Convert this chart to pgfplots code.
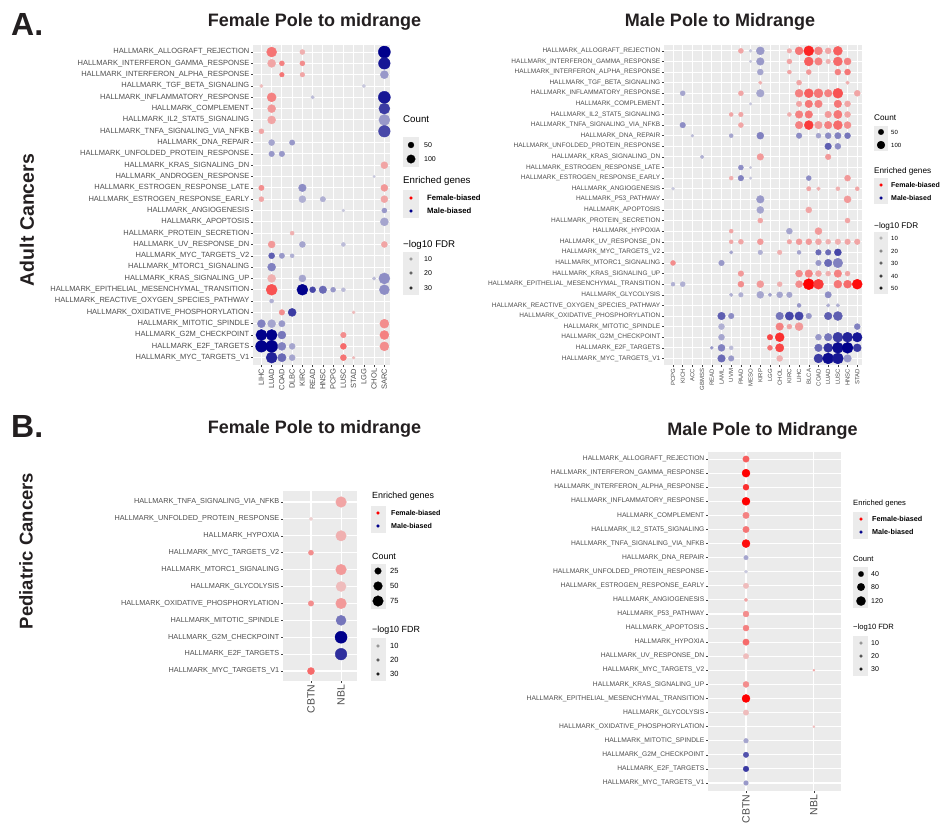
\documentclass[border=0pt]{standalone}
\usepackage{fontspec}
\setmainfont{Liberation Sans}
\usepackage{pgfplots}
\usepackage{pgfplotstable}
\pgfplotsset{compat=1.18}
\definecolor{ggbg}{HTML}{EBEBEB}
\definecolor{fem}{HTML}{FF0000}
\definecolor{mal}{HTML}{00008B}
\definecolor{tickc}{HTML}{4D4D4D}
\definecolor{ttl}{HTML}{231F20}
\newcommand\fs[1]{\fontsize{#1}{#1}\selectfont}

% ---------- A: Female pole (adult) ----------
\pgfplotstableread{
x y c f
2 1 135 16.9
5 1 34 6.3
2 2 87 8.4
3 2 34 14.8
5 2 34 12.7
3 3 29 16.9
5 3 29 8.4
1 4 16 4.2
2 5 110 14.8
2 6 87 10.6
2 7 87 8.4
1 8 34 8.4
13 11 66 8.4
1 13 39 12.7
13 13 66 10.6
1 14 34 8.4
13 14 66 8.4
4 17 22 6.3
2 18 66 10.6
13 18 49 8.4
2 21 87 6.3
2 22 164 23.2
3 24 42 12.7
10 24 12 4.2
13 25 110 12.7
9 26 42 12.7
13 26 110 14.8
9 27 49 19
13 27 110 12.7
9 28 49 16.9
10 28 12 4.2
}\ALf
\pgfplotstableread{
x y c f
13 1 195 38
13 2 182 33.8
13 3 87 10.6
11 4 16 2.1
6 5 16 4.2
13 5 195 33.8
13 6 164 27.4
13 7 164 10.6
13 8 182 25.3
2 9 49 8.4
4 9 39 10.6
2 10 42 10.6
3 10 42 10.6
12 12 9 2.1
5 13 78 12.7
5 14 66 6.3
7 14 39 6.3
9 15 12 2.1
13 15 34 10.6
13 16 87 8.4
5 18 49 8.4
9 18 22 4.2
2 19 49 21.1
3 19 39 10.6
4 19 22 6.3
2 20 87 14.8
5 21 66 8.4
12 21 16 4.2
13 21 164 12.7
5 22 164 38
6 22 49 25.3
7 22 78 19
8 22 34 10.6
9 22 22 4.2
13 22 135 12.7
2 23 22 6.3
4 24 87 27.4
1 25 87 14.8
2 25 87 8.4
3 25 55 10.6
1 26 164 38
2 26 164 38
3 26 87 16.9
1 27 182 38
2 27 195 38
3 27 87 14.8
4 27 49 8.4
2 28 164 31.7
3 28 95 19
4 28 49 8.4
}\ALm

% ---------- A: Male pole (adult) ----------
\pgfplotstableread{
x y c f
8 1 39 12.2
13 1 33 9.2
14 1 100 24.4
15 1 156 45.8
16 1 100 21.4
17 1 56 12.2
18 1 127 30.6
13 2 39 12.2
15 2 127 30.6
16 2 90 21.4
17 2 33 9.2
18 2 127 27.5
19 2 77 21.4
13 3 25 12.2
15 3 39 15.3
18 3 56 21.4
19 3 56 24.4
10 4 20 9.2
14 4 39 12.2
19 4 20 9.2
8 5 39 12.2
14 5 100 21.4
15 5 127 30.6
16 5 127 24.4
17 5 90 21.4
18 5 156 33.6
20 5 56 12.2
14 6 49 12.2
15 6 90 24.4
16 6 90 21.4
18 6 90 24.4
19 6 56 12.2
7 7 25 12.2
8 7 33 12.2
13 7 25 9.2
14 7 90 21.4
15 7 90 24.4
17 7 68 15.3
18 7 110 24.4
19 7 56 12.2
8 8 39 12.2
14 8 90 21.4
15 8 127 39.7
16 8 90 15.3
17 8 90 21.4
18 8 127 27.5
19 8 77 18.3
10 11 68 15.3
17 11 49 15.3
7 13 25 9.2
19 13 56 15.3
15 14 30 12.2
16 14 20 9.2
18 14 25 9.2
20 14 25 12.2
19 15 77 15.3
15 16 56 12.2
10 17 39 12.2
19 17 39 12.2
7 18 25 12.2
16 18 77 15.3
7 19 25 12.2
8 19 39 12.2
10 19 56 15.3
13 19 33 12.2
14 19 56 15.3
15 19 56 15.3
16 19 56 12.2
17 19 39 9.2
18 19 49 9.2
19 19 49 12.2
20 19 49 12.2
12 20 33 9.2
1 21 39 18.3
8 22 49 15.3
14 22 77 18.3
15 22 90 21.4
16 22 56 12.2
17 22 39 9.2
18 22 90 21.4
19 22 39 12.2
8 23 56 18.3
10 23 77 15.3
12 23 39 9.2
14 23 77 18.3
15 23 189 55
16 23 156 39.7
18 23 100 24.4
19 23 100 27.5
20 23 156 51.9
12 27 90 21.4
13 27 39 12.2
14 27 100 15.3
11 28 49 36.7
12 28 127 42.8
11 29 39 24.4
12 29 110 36.7
12 30 56 9.2
}\AMf
\pgfplotstableread{
x y c f
9 1 14 3.1
10 1 100 15.3
9 2 11 3.1
10 2 90 15.3
10 3 56 12.2
2 5 39 12.2
10 5 90 12.2
9 6 11 3.1
2 8 49 18.3
3 9 14 6.1
7 9 25 12.2
10 9 77 21.4
14 9 49 18.3
16 9 39 12.2
17 9 56 18.3
18 9 64 21.4
19 9 56 24.4
17 10 68 30.6
18 10 56 18.3
4 11 20 9.2
8 12 39 18.3
9 12 11 3.1
8 13 49 21.4
9 13 11 3.1
15 13 39 18.3
1 14 14 3.1
10 15 90 15.3
10 16 77 12.2
13 18 56 12.2
7 20 20 12.2
10 20 33 9.2
14 20 25 12.2
16 20 49 27.5
17 20 49 27.5
18 20 77 36.7
6 21 49 15.3
16 21 49 15.3
17 21 90 27.5
18 21 144 21.4
1 23 25 9.2
2 23 39 9.2
7 24 20 9.2
8 24 33 9.2
10 24 77 12.2
11 24 20 12.2
12 24 56 12.2
13 24 49 12.2
17 24 64 18.3
14 25 25 15.3
17 25 20 9.2
18 25 20 9.2
6 26 90 30.6
7 26 49 18.3
12 26 90 24.4
13 26 110 36.7
14 26 110 36.7
15 26 49 15.3
17 26 90 30.6
18 26 127 30.6
6 27 56 9.2
20 27 56 21.4
6 28 56 12.2
16 28 56 15.3
17 28 90 24.4
18 28 156 39.7
19 28 156 45.8
20 28 144 48.9
5 29 14 15.3
6 29 77 21.4
7 29 25 6.1
16 29 90 27.5
17 29 127 42.8
18 29 189 51.9
19 29 189 55
20 29 100 39.7
6 30 90 27.5
7 30 49 15.3
16 30 127 39.7
17 30 189 51.9
18 30 189 48.9
19 30 90 15.3
}\AMm

% ---------- B: Female pole (pediatric) ----------
\pgfplotstableread{
x y c f
2 1 73 7.8
1 2 1 0.8
2 3 70 5.8
1 4 11 11.7
2 5 73 9.7
2 6 64 3.9
1 7 14 11.7
2 7 73 9.7
1 11 28 17.5
}\BFf
\pgfplotstableread{
x y c f
2 8 64 15.6
2 9 96 35
2 10 89 27.2
}\BFm

% ---------- B: Male pole (pediatric) ----------
\pgfplotstableread{
x y c f
1 1 55 18.4
1 2 87 33
1 3 48 25.7
1 4 87 33
1 5 55 12.8
1 6 55 14.7
1 7 87 31.2
1 10 39 3.7
1 11 14 7.3
1 12 48 11
1 13 48 12.8
1 14 55 16.5
1 15 39 3.7
1 17 48 11
1 18 87 33
1 19 39 3.7
2 16 4 7.3
2 20 4 3.7
}\BMf
\pgfplotstableread{
x y c f
1 8 25 7.3
1 9 11 1.8
1 21 28 7.3
1 22 39 20.2
1 23 42 23.9
1 24 28 9.2
}\BMm

\pgfplotsset{
  ggpanel/.style={
    scale only axis, anchor=center,
    axis background/.style={fill=ggbg},
    axis line style={draw=none},
    grid=major,
    major grid style={white, line width=0.9pt},
    tick align=outside,
    major tick length=2pt,
    tick style={black!75, line width=0.5pt},
    tick pos=left,
    y dir=reverse,
    xticklabel style={rotate=90, anchor=east, text=tickc, inner sep=1.5pt},
    yticklabel style={text=tickc, inner sep=1.5pt},
  },
  % colour = series colour blended over the panel grey by alpha (-log10 FDR)
  dotsty/.style n args={4}{scatter, only marks, mark=*,
    visualization depends on={sqrt(#2+#3*\thisrow{c}) \as \rad},
    visualization depends on={10+90*min(\thisrow{f}/#4,1) \as \alpp},
    scatter/use mapped color={draw=#1!\alpp!ggbg, fill=#1!\alpp!ggbg},
    scatter/@pre marker code/.append style={/tikz/mark size=\rad, /tikz/line width=0.1pt}},
  ld/.style n args={3}{only marks, mark=*, mark size=#2, color=#1!#3!ggbg,
    mark options={line width=0.1pt}},
}
\tikzset{lt/.style={anchor=west, inner sep=0pt}}

\begin{document}
\begin{tikzpicture}
\useasboundingbox (0,0) rectangle (942pt,-823pt);

% ===== A left =====
\begin{axis}[ggpanel, at={(321.5pt,-205pt)}, width=137pt, height=320pt,
  xmin=0.18, xmax=13.55, ymin=0.38, ymax=28.65,
  xtick={1,...,13}, ytick={1,...,28},
  xticklabel style={font=\fs{7.5}}, yticklabel style={font=\fs{7.5}},
  xticklabels={LIHC,LUAD,COAD,DLBC,KIRC,READ,HNSC,PCPG,LUSC,STAD,LGG,CHOL,SARC},
  yticklabels={HALLMARK\_ALLOGRAFT\_REJECTION,HALLMARK\_INTERFERON\_GAMMA\_RESPONSE,HALLMARK\_INTERFERON\_ALPHA\_RESPONSE,HALLMARK\_TGF\_BETA\_SIGNALING,HALLMARK\_INFLAMMATORY\_RESPONSE,HALLMARK\_COMPLEMENT,HALLMARK\_IL2\_STAT5\_SIGNALING,HALLMARK\_TNFA\_SIGNALING\_VIA\_NFKB,HALLMARK\_DNA\_REPAIR,HALLMARK\_UNFOLDED\_PROTEIN\_RESPONSE,HALLMARK\_KRAS\_SIGNALING\_DN,HALLMARK\_ANDROGEN\_RESPONSE,HALLMARK\_ESTROGEN\_RESPONSE\_LATE,HALLMARK\_ESTROGEN\_RESPONSE\_EARLY,HALLMARK\_ANGIOGENESIS,HALLMARK\_APOPTOSIS,HALLMARK\_PROTEIN\_SECRETION,HALLMARK\_UV\_RESPONSE\_DN,HALLMARK\_MYC\_TARGETS\_V2,HALLMARK\_MTORC1\_SIGNALING,HALLMARK\_KRAS\_SIGNALING\_UP,HALLMARK\_EPITHELIAL\_MESENCHYMAL\_TRANSITION,HALLMARK\_REACTIVE\_OXYGEN\_SPECIES\_PATHWAY,HALLMARK\_OXIDATIVE\_PHOSPHORYLATION,HALLMARK\_MITOTIC\_SPINDLE,HALLMARK\_G2M\_CHECKPOINT,HALLMARK\_E2F\_TARGETS,HALLMARK\_MYC\_TARGETS\_V1},
]
\addplot[dotsty={fem}{0}{0.1849}{38}] table[x=x,y=y] {\ALf};
\addplot[dotsty={mal}{0}{0.1849}{38}] table[x=x,y=y] {\ALm};
\end{axis}

% ===== A right =====
\begin{axis}[ggpanel, at={(763pt,-205pt)}, width=198pt, height=320pt,
  xmin=0.07, xmax=20.49, ymin=0.45, ymax=30.62,
  xtick={1,...,20}, ytick={1,...,30},
  xticklabel style={font=\fs{6}}, yticklabel style={font=\fs{6.5}},
  xticklabels={PCPG,KICH,ACC,GBMSS,READ,LAML,UVM,PAAD,MESO,KIRP,LGG,CHOL,KIRC,LIHC,BLCA,COAD,LUAD,LUSC,HNSC,STAD},
  yticklabels={HALLMARK\_ALLOGRAFT\_REJECTION,HALLMARK\_INTERFERON\_GAMMA\_RESPONSE,HALLMARK\_INTERFERON\_ALPHA\_RESPONSE,HALLMARK\_TGF\_BETA\_SIGNALING,HALLMARK\_INFLAMMATORY\_RESPONSE,HALLMARK\_COMPLEMENT,HALLMARK\_IL2\_STAT5\_SIGNALING,HALLMARK\_TNFA\_SIGNALING\_VIA\_NFKB,HALLMARK\_DNA\_REPAIR,HALLMARK\_UNFOLDED\_PROTEIN\_RESPONSE,HALLMARK\_KRAS\_SIGNALING\_DN,HALLMARK\_ESTROGEN\_RESPONSE\_LATE,HALLMARK\_ESTROGEN\_RESPONSE\_EARLY,HALLMARK\_ANGIOGENESIS,HALLMARK\_P53\_PATHWAY,HALLMARK\_APOPTOSIS,HALLMARK\_PROTEIN\_SECRETION,HALLMARK\_HYPOXIA,HALLMARK\_UV\_RESPONSE\_DN,HALLMARK\_MYC\_TARGETS\_V2,HALLMARK\_MTORC1\_SIGNALING,HALLMARK\_KRAS\_SIGNALING\_UP,HALLMARK\_EPITHELIAL\_MESENCHYMAL\_TRANSITION,HALLMARK\_GLYCOLYSIS,HALLMARK\_REACTIVE\_OXYGEN\_SPECIES\_PATHWAY,HALLMARK\_OXIDATIVE\_PHOSPHORYLATION,HALLMARK\_MITOTIC\_SPINDLE,HALLMARK\_G2M\_CHECKPOINT,HALLMARK\_E2F\_TARGETS,HALLMARK\_MYC\_TARGETS\_V1},
]
\addplot[dotsty={fem}{0}{0.16}{55}] table[x=x,y=y] {\AMf};
\addplot[dotsty={mal}{0}{0.16}{55}] table[x=x,y=y] {\AMm};
\end{axis}

% ===== B left =====
\begin{axis}[ggpanel, at={(320pt,-586pt)}, width=74pt, height=190pt,
  xmin=0.07, xmax=2.53, ymin=0.35, ymax=11.59,
  xtick={1,2}, ytick={1,...,11},
  major grid style={white, line width=1.1pt},
  xticklabel style={font=\fs{10.5}}, yticklabel style={font=\fs{7.3}},
  xticklabels={CBTN,NBL},
  yticklabels={HALLMARK\_TNFA\_SIGNALING\_VIA\_NFKB,HALLMARK\_UNFOLDED\_PROTEIN\_RESPONSE,HALLMARK\_HYPOXIA,HALLMARK\_MYC\_TARGETS\_V2,HALLMARK\_MTORC1\_SIGNALING,HALLMARK\_GLYCOLYSIS,HALLMARK\_OXIDATIVE\_PHOSPHORYLATION,HALLMARK\_MITOTIC\_SPINDLE,HALLMARK\_G2M\_CHECKPOINT,HALLMARK\_E2F\_TARGETS,HALLMARK\_MYC\_TARGETS\_V1},
]
\addplot[dotsty={fem}{2.5}{0.35}{35}] table[x=x,y=y] {\BFf};
\addplot[dotsty={mal}{2.5}{0.35}{35}] table[x=x,y=y] {\BFm};
\end{axis}

% ===== B right =====
\begin{axis}[ggpanel, at={(774.5pt,-621.5pt)}, width=133pt, height=339pt,
  xmin=0.44, xmax=2.4, ymin=0.5, ymax=24.57,
  xtick={1,2}, ytick={1,...,24},
  major grid style={white, line width=1.1pt},
  xticklabel style={font=\fs{10.5}}, yticklabel style={font=\fs{6.7}},
  xticklabels={CBTN,NBL},
  yticklabels={HALLMARK\_ALLOGRAFT\_REJECTION,HALLMARK\_INTERFERON\_GAMMA\_RESPONSE,HALLMARK\_INTERFERON\_ALPHA\_RESPONSE,HALLMARK\_INFLAMMATORY\_RESPONSE,HALLMARK\_COMPLEMENT,HALLMARK\_IL2\_STAT5\_SIGNALING,HALLMARK\_TNFA\_SIGNALING\_VIA\_NFKB,HALLMARK\_DNA\_REPAIR,HALLMARK\_UNFOLDED\_PROTEIN\_RESPONSE,HALLMARK\_ESTROGEN\_RESPONSE\_EARLY,HALLMARK\_ANGIOGENESIS,HALLMARK\_P53\_PATHWAY,HALLMARK\_APOPTOSIS,HALLMARK\_HYPOXIA,HALLMARK\_UV\_RESPONSE\_DN,HALLMARK\_MYC\_TARGETS\_V2,HALLMARK\_KRAS\_SIGNALING\_UP,HALLMARK\_EPITHELIAL\_MESENCHYMAL\_TRANSITION,HALLMARK\_GLYCOLYSIS,HALLMARK\_OXIDATIVE\_PHOSPHORYLATION,HALLMARK\_MITOTIC\_SPINDLE,HALLMARK\_G2M\_CHECKPOINT,HALLMARK\_E2F\_TARGETS,HALLMARK\_MYC\_TARGETS\_V1},
]
\addplot[dotsty={fem}{0.3}{0.18}{33}] table[x=x,y=y] {\BMf};
\addplot[dotsty={mal}{0.3}{0.18}{33}] table[x=x,y=y] {\BMm};
\end{axis}

% ===== legends (overlay axis in pixel units) =====
\begin{axis}[scale only axis, anchor=center, at={(471pt,-411.5pt)},
  width=942pt, height=823pt, xmin=0, xmax=942, ymin=0, ymax=823,
  y dir=reverse, hide axis, clip=false]
% --- A left
\node[lt] at (axis cs:403,119) {\fs{9.7}Count};
\fill[ggbg] (axis cs:403,137) rectangle (axis cs:419,167);
\addplot[ld={black}{3.04}{100}] coordinates {(411,145)};
\addplot[ld={black}{4.3}{100}] coordinates {(411,159)};
\node[lt] at (axis cs:424,145) {\fs{7}50};
\node[lt] at (axis cs:424,159) {\fs{7}100};
\node[lt] at (axis cs:403,181) {\fs{9.7}Enriched genes};
\fill[ggbg] (axis cs:403,190) rectangle (axis cs:419,218);
\addplot[ld={fem}{1.6}{100}] coordinates {(411,198)};
\addplot[ld={mal}{1.6}{100}] coordinates {(411,211)};
\node[lt] at (axis cs:427,198) {\fs{7.7}\bfseries Female-biased};
\node[lt] at (axis cs:427,211) {\fs{7.7}\bfseries Male-biased};
\node[lt] at (axis cs:403,245) {\fs{9.7}−log10 FDR};
\fill[ggbg] (axis cs:403,252) rectangle (axis cs:419,295);
\addplot[ld={black}{1.6}{34}] coordinates {(411,259)};
\addplot[ld={black}{1.6}{57}] coordinates {(411,273)};
\addplot[ld={black}{1.6}{81}] coordinates {(411,288)};
\node[lt] at (axis cs:424,259) {\fs{7}10};
\node[lt] at (axis cs:424,273) {\fs{7}20};
\node[lt] at (axis cs:424,288) {\fs{7}30};
% --- A right
\node[lt] at (axis cs:874,118) {\fs{8.2}Count};
\fill[ggbg] (axis cs:874,126) rectangle (axis cs:888,151);
\addplot[ld={black}{2.83}{100}] coordinates {(881,132)};
\addplot[ld={black}{4.0}{100}] coordinates {(881,145)};
\node[lt] at (axis cs:891,132) {\fs{6}50};
\node[lt] at (axis cs:891,145) {\fs{6}100};
\node[lt] at (axis cs:874,171) {\fs{8.2}Enriched genes};
\fill[ggbg] (axis cs:874,178) rectangle (axis cs:888,204);
\addplot[ld={fem}{1.5}{100}] coordinates {(881,185)};
\addplot[ld={mal}{1.5}{100}] coordinates {(881,198)};
\node[lt] at (axis cs:891,185) {\fs{7}\bfseries Female-biased};
\node[lt] at (axis cs:891,198) {\fs{7}\bfseries Male-biased};
\node[lt] at (axis cs:874,226) {\fs{8.2}−log10 FDR};
\fill[ggbg] (axis cs:874,232) rectangle (axis cs:888,294);
\addplot[ld={black}{1.5}{26}] coordinates {(881,238)};
\addplot[ld={black}{1.5}{43}] coordinates {(881,251)};
\addplot[ld={black}{1.5}{59}] coordinates {(881,263)};
\addplot[ld={black}{1.5}{75}] coordinates {(881,276)};
\addplot[ld={black}{1.5}{92}] coordinates {(881,288)};
\node[lt] at (axis cs:891,238) {\fs{6}10};
\node[lt] at (axis cs:891,251) {\fs{6}20};
\node[lt] at (axis cs:891,263) {\fs{6}30};
\node[lt] at (axis cs:891,276) {\fs{6}40};
\node[lt] at (axis cs:891,288) {\fs{6}50};
% --- B left
\node[lt] at (axis cs:372,496) {\fs{8.9}Enriched genes};
\fill[ggbg] (axis cs:371,506) rectangle (axis cs:386,533);
\addplot[ld={fem}{1.6}{100}] coordinates {(378,513)};
\addplot[ld={mal}{1.6}{100}] coordinates {(378,526)};
\node[lt] at (axis cs:391,513) {\fs{7.1}\bfseries Female-biased};
\node[lt] at (axis cs:391,526) {\fs{7.1}\bfseries Male-biased};
\node[lt] at (axis cs:372,556) {\fs{8.9}Count};
\fill[ggbg] (axis cs:371,564) rectangle (axis cs:386,609);
\addplot[ld={black}{3.35}{100}] coordinates {(378,571)};
\addplot[ld={black}{4.47}{100}] coordinates {(378,586)};
\addplot[ld={black}{5.36}{100}] coordinates {(378,601)};
\node[lt] at (axis cs:390,571) {\fs{7.5}25};
\node[lt] at (axis cs:390,586) {\fs{7.5}50};
\node[lt] at (axis cs:390,601) {\fs{7.5}75};
\node[lt] at (axis cs:372,630) {\fs{8.9}−log10 FDR};
\fill[ggbg] (axis cs:371,638) rectangle (axis cs:386,681);
\addplot[ld={black}{1.6}{36}] coordinates {(378,646)};
\addplot[ld={black}{1.6}{61}] coordinates {(378,660)};
\addplot[ld={black}{1.6}{87}] coordinates {(378,674)};
\node[lt] at (axis cs:390,646) {\fs{7.5}10};
\node[lt] at (axis cs:390,660) {\fs{7.5}20};
\node[lt] at (axis cs:390,674) {\fs{7.5}30};
% --- B right
\node[lt] at (axis cs:853,504) {\fs{7.6}Enriched genes};
\fill[ggbg] (axis cs:853,512) rectangle (axis cs:868,539);
\addplot[ld={fem}{1.5}{100}] coordinates {(861,519)};
\addplot[ld={mal}{1.5}{100}] coordinates {(861,532)};
\node[lt] at (axis cs:872,519) {\fs{7.2}\bfseries Female-biased};
\node[lt] at (axis cs:872,532) {\fs{7.2}\bfseries Male-biased};
\node[lt] at (axis cs:853,559) {\fs{7.6}Count};
\fill[ggbg] (axis cs:853,567) rectangle (axis cs:868,608);
\addplot[ld={black}{2.74}{100}] coordinates {(861,574)};
\addplot[ld={black}{3.83}{100}] coordinates {(861,587)};
\addplot[ld={black}{4.68}{100}] coordinates {(861,601)};
\node[lt] at (axis cs:871,574) {\fs{7}40};
\node[lt] at (axis cs:871,587) {\fs{7}80};
\node[lt] at (axis cs:871,601) {\fs{7}120};
\node[lt] at (axis cs:853,628) {\fs{7.6}−log10 FDR};
\fill[ggbg] (axis cs:853,636) rectangle (axis cs:868,676);
\addplot[ld={black}{1.5}{37}] coordinates {(861,643)};
\addplot[ld={black}{1.5}{65}] coordinates {(861,656)};
\addplot[ld={black}{1.5}{92}] coordinates {(861,669)};
\node[lt] at (axis cs:871,643) {\fs{7}10};
\node[lt] at (axis cs:871,656) {\fs{7}20};
\node[lt] at (axis cs:871,669) {\fs{7}30};
\end{axis}

% ===== titles and panel labels =====
\node[anchor=base west, text=ttl, inner sep=0] at (11pt,-35pt) {\fs{32}\bfseries A.};
\node[anchor=base west, text=ttl, inner sep=0] at (11pt,-437pt) {\fs{32}\bfseries B.};
\node[anchor=base, text=ttl, inner sep=0] at (314.5pt,-26.7pt) {\fs{18}\bfseries Female Pole to midrange};
\node[anchor=base, text=ttl, inner sep=0] at (720pt,-26.7pt) {\fs{18}\bfseries Male Pole to Midrange};
\node[anchor=base, text=ttl, inner sep=0] at (314.5pt,-433pt) {\fs{18}\bfseries Female Pole to midrange};
\node[anchor=base, text=ttl, inner sep=0] at (762.5pt,-435pt) {\fs{18}\bfseries Male Pole to Midrange};
\node[rotate=90, text=ttl, inner sep=0] at (27pt,-220pt) {\fs{19.5}\bfseries Adult Cancers};
\node[rotate=90, text=ttl, inner sep=0] at (26pt,-551pt) {\fs{18.5}\bfseries Pediatric Cancers};
\end{tikzpicture}
\end{document}
